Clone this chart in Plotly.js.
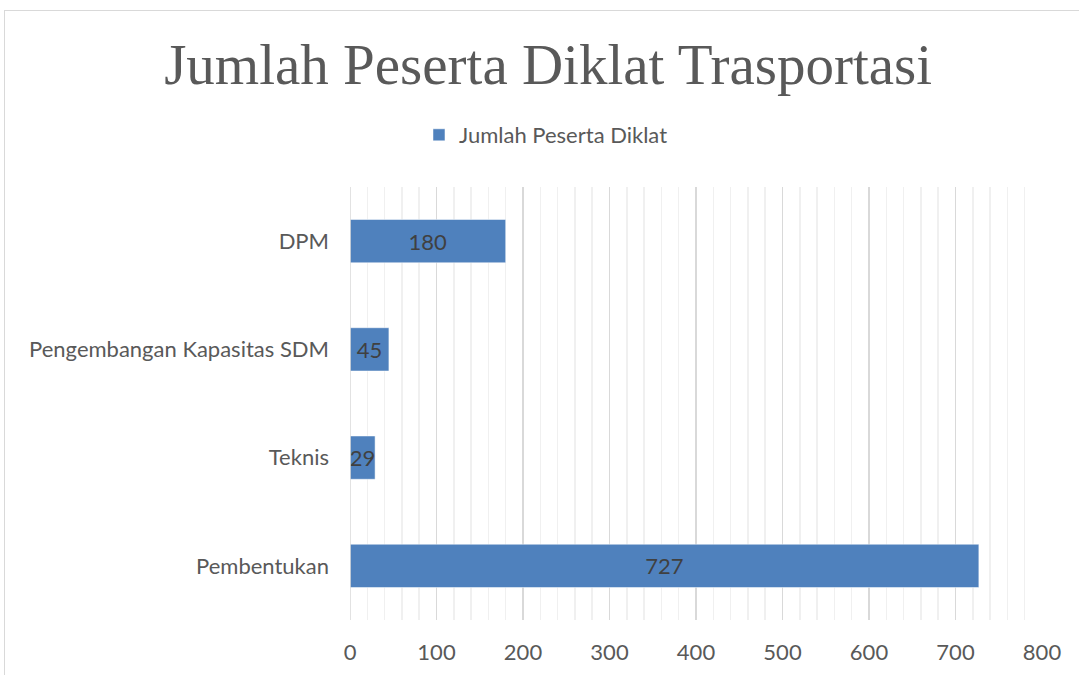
<!DOCTYPE html>
<html><head><meta charset="utf-8">
<script src="https://cdn.plot.ly/plotly-3.0.1.min.js"></script>
<style>
html,body{margin:0;padding:0;background:#fff;overflow:hidden;}
#wrap{position:relative;width:1079px;height:675px;}
#chart{position:absolute;left:0;top:0;width:1079px;height:675px;}
#frame{position:absolute;left:4px;top:10px;width:1100px;height:700px;border:1px solid #d9d9d9;pointer-events:none;}
</style></head>
<body><div id="wrap"><div id="chart"></div><div id="frame"></div></div>
<script>
const categories = ["Pembentukan", "Teknis", "Pengembangan Kapasitas SDM", "DPM"];
const values = [727, 29, 45, 180];
const seriesName = "Jumlah Peserta Diklat";
const chartTitle = "Jumlah Peserta Diklat Trasportasi";
const xTicks = [0, 100, 200, 300, 400, 500, 600, 700, 800];

const trace = {
  type: 'bar', orientation: 'h',
  y: categories, x: values, name: seriesName,
  marker: {color: '#4f81bd', line: {color: '#ffffff', width: 0.5}},
  text: values.map(String),
  textposition: 'inside', insidetextanchor: 'middle', constraintext: 'none', textangle: 0,
  textfont: {family: 'Lato, sans-serif', size: 22, color: '#404040'},
  cliponaxis: false,
  showlegend: true
};

const layout = {
  width: 1079, height: 675,
  margin: {l: 350, r: 37, t: 187, b: 55},
  paper_bgcolor: '#ffffff', plot_bgcolor: '#ffffff',
  title: {text: chartTitle, x: 0.508, xref: 'container', xanchor: 'center', y: 0.905, yref: 'container', yanchor: 'middle',
    font: {family: '"Liberation Serif", "DejaVu Serif", serif', size: 57, color: '#595959'}},
  showlegend: true,
  legend: {orientation: 'h', x: 0.506, xref: 'container', xanchor: 'center', y: 0.8, yref: 'container', yanchor: 'middle',
    font: {family: 'Lato, sans-serif', size: 22, color: '#595959'}, itemwidth: 30},
  bargap: 0.6,
  xaxis: {range: [0, 800], tickvals: xTicks, ticktext: xTicks.map(String), showgrid: true, gridcolor: '#d9d9d9', gridwidth: 1.5,
    zeroline: false, showline: false, ticks: '', ticklabelstandoff: 17,
    minor: {dtick: 20, showgrid: true, gridcolor: '#f0f0f0', gridwidth: 1.5},
    tickfont: {family: 'Lato, sans-serif', size: 22, color: '#595959'}, fixedrange: true},
  yaxis: {showgrid: false, zeroline: false, showline: false, ticks: '', ticklabelstandoff: 20,
    tickfont: {family: 'Lato, sans-serif', size: 22, color: '#595959'}, fixedrange: true},
  shapes: [{type: 'line', xref: 'x', yref: 'paper', x0: 0, x1: 0, y0: 0, y1: 1, line: {color: '#d9d9d9', width: 1.5}}]
};

Plotly.newPlot('chart', [trace], layout, {displayModeBar: false, staticPlot: true});
</script></body></html>
